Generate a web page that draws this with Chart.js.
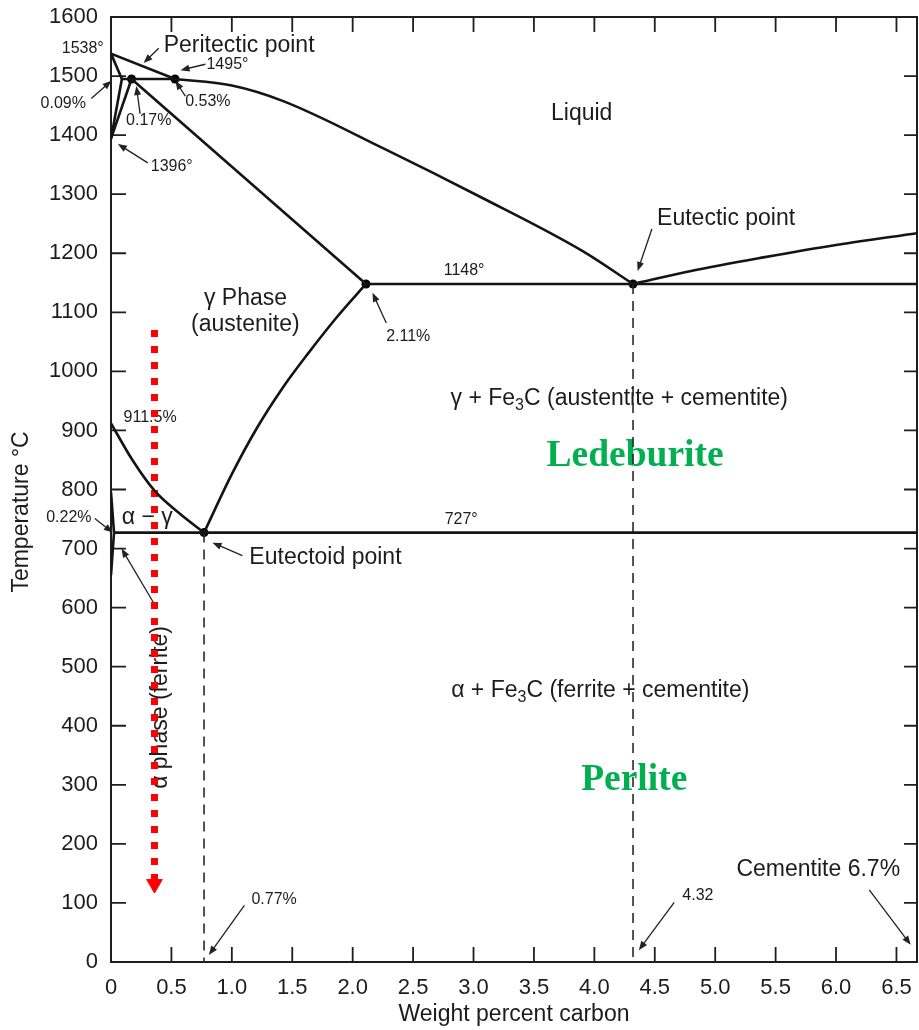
<!DOCTYPE html>
<html>
<head>
<meta charset="utf-8">
<script src="https://cdn.jsdelivr.net/npm/chart.js@4.4.1/dist/chart.umd.min.js"></script>
<style>
  html, body { margin: 0; padding: 0; background: #fff; }
  #wrap { width: 919px; height: 1030px; }
</style>
</head>
<body>
<div id="wrap"><canvas id="phaseChart"></canvas></div>
<script>
// Fe - Fe3C diagram, carbon wt% against temperature (°C)
const deltaLiqC = [0, 0.53];
const deltaLiqT = [1538, 1495];
const liquidusC = [0.53, 1.0, 1.42, 2.25, 3.07, 3.9, 4.32];
const liquidusT = [1495, 1484, 1458, 1378, 1294, 1204, 1148];
const cemLiqC = [4.32, 4.8, 5.4, 6.0, 6.67];
const cemLiqT = [1148, 1170, 1193, 1214, 1234];
const deltaSolC = [0, 0.09];
const deltaSolT = [1538, 1495];
const deltaGamC = [0.09, 0];
const deltaGamT = [1495, 1394];
const gamDeltaC = [0.17, 0];
const gamDeltaT = [1495, 1394];
const peritecticC = [0.09, 0.53];
const peritecticT = [1495, 1495];
const solidusC = [0.17, 2.11];
const solidusT = [1495, 1148];
const eutecticC = [2.11, 6.67];
const eutecticT = [1148, 1148];
const acmC = [0.77, 1.0, 1.21, 1.42, 1.63, 1.87, 2.11];
const acmT = [727, 826, 905, 972, 1030, 1092, 1148];
const a3C = [0, 0.18, 0.36, 0.57, 0.77];
const a3T = [912, 849, 798, 759, 727];
const alphaUpC = [0, 0.025];
const alphaUpT = [795, 727];
const alphaLowC = [0.025, 0.012, 0];
const alphaLowT = [727, 690, 655];
const eutectoidC = [0.025, 6.67];
const eutectoidT = [727, 727];
const dash077C = [0.77, 0.77];
const dash077T = [727, 0];
const dash432C = [4.32, 4.32];
const dash432T = [1148, 0];
const dotC = [0.17, 0.53, 2.11, 4.32, 0.77];
const dotT = [1495, 1495, 1148, 1148, 727];
const coolC = [0.36, 0.36];
const coolT = [1070, 132];

const xTickStep = 0.5;
const yTickStep = 100;

const toXY = (cs, ts) => cs.map((c, i) => ({ x: c, y: ts[i] }));

function curve(cs, ts, smooth) {
  return {
    data: toXY(cs, ts),
    borderColor: "#141414",
    borderWidth: 2.6,
    pointRadius: 0,
    fill: false,
    tension: 0,
    cubicInterpolationMode: smooth ? "monotone" : "default",
  };
}

function dashed(cs, ts) {
  return {
    data: toXY(cs, ts),
    borderColor: "#2a2a2a",
    borderWidth: 1.6,
    borderDash: [10, 7],
    pointRadius: 0,
    fill: false,
  };
}

const SANS = '"Liberation Sans", Arial, sans-serif';
const SERIF = '"Liberation Serif", "Times New Roman", serif';

// texts and leader arrows, placed in data units
const labels = [
  { t: "Peritectic point", c: 0.436, T: 1551, s: 23 },
  { t: "1495°", c: 0.79, T: 1520, s: 16 },
  { t: "1538°", c: -0.06, T: 1546, s: 16, align: "right" },
  { t: "0.09%", c: -0.395, T: 1453, s: 16, align: "center" },
  { t: "0.53%", c: 0.614, T: 1456, s: 16 },
  { t: "0.17%", c: 0.125, T: 1424, s: 16 },
  { t: "1396°", c: 0.329, T: 1346, s: 16 },
  { t: "Liquid", c: 3.641, T: 1437, s: 23 },
  { t: "Eutectic point", c: 4.519, T: 1258, s: 23 },
  { t: "1148°", c: 2.753, T: 1170, s: 16 },
  { t: "γ Phase", c: 1.113, T: 1123, s: 23, align: "center" },
  { t: "(austenite)", c: 1.112, T: 1079, s: 23, align: "center" },
  { t: "2.11%", c: 2.277, T: 1059, s: 16 },
  { t: "911.5%", c: 0.104, T: 922, s: 16 },
  { t: "0.22%", c: -0.349, T: 753, s: 16, align: "center" },
  { t: "α − γ", c: 0.089, T: 753, s: 23 },
  { t: "727°", c: 2.761, T: 749, s: 16 },
  { t: "Eutectoid point", c: 1.145, T: 685, s: 23 },
  { t: "0.77%", c: 1.162, T: 105, s: 16 },
  { t: "4.32", c: 4.728, T: 113, s: 16 },
  { t: "Cementite 6.7%", c: 5.176, T: 156, s: 23 },
  { t: "Ledeburite", c: 4.337, T: 857, s: 37.5, align: "center", serif: true, color: "#00b050" },
  { t: "Perlite", c: 4.33, T: 308, s: 37.5, align: "center", serif: true, color: "#00b050" },
];

const phaseTexts = [
  { c: 2.81, T: 954, parts: [{ t: "γ + Fe" }, { t: "3", sub: true }, { t: "C (austentite + cementite)" }] },
  { c: 2.815, T: 460, parts: [{ t: "α + Fe" }, { t: "3", sub: true }, { t: "C (ferrite + cementite)" }] },
];

const leaders = [
  [0.395, 1547, 0.27, 1522],
  [0.781, 1520, 0.575, 1510],
  [0.615, 1466, 0.533, 1492],
  [-0.163, 1462, 0.004, 1492],
  [0.241, 1436, 0.21, 1483],
  [0.304, 1353, 0.057, 1385],
  [2.278, 1082, 2.164, 1133],
  [4.476, 1241, 4.358, 1170],
  [1.087, 688, 0.84, 710],
  [-0.134, 751, 0.014, 727],
  [0.356, 607, 0.087, 700],
  [1.104, 96, 0.81, 12],
  [4.661, 101, 4.368, 20],
  [6.275, 122, 6.618, 29],
];

function arrow(ctx, x1, y1, x2, y2) {
  const a = Math.atan2(y2 - y1, x2 - x1);
  const L = 9, W = 3.5;
  ctx.beginPath();
  ctx.moveTo(x1, y1);
  ctx.lineTo(x2 - 5 * Math.cos(a), y2 - 5 * Math.sin(a));
  ctx.stroke();
  ctx.beginPath();
  ctx.moveTo(x2, y2);
  ctx.lineTo(x2 - L * Math.cos(a) + W * Math.sin(a), y2 - L * Math.sin(a) - W * Math.cos(a));
  ctx.lineTo(x2 - L * Math.cos(a) - W * Math.sin(a), y2 - L * Math.sin(a) + W * Math.cos(a));
  ctx.closePath();
  ctx.fill();
}

const diagramPlugin = {
  id: "diagram",
  beforeDatasetsDraw(chart) {
    const { ctx, chartArea: area } = chart;
    const xs = chart.scales.x, ys = chart.scales.y;
    const X = (c) => xs.getPixelForValue(c);
    const Y = (t) => ys.getPixelForValue(t);
    ctx.save();

    // frame and inward ticks
    ctx.strokeStyle = "#1e1e1e";
    ctx.lineWidth = 2;
    ctx.strokeRect(area.left, area.top, area.right - area.left, area.bottom - area.top);
    ctx.lineWidth = 1.8;
    xs.ticks.forEach((tk) => {
      if (tk.value <= xs.min || tk.value >= xs.max) return;
      const x = X(tk.value);
      ctx.beginPath();
      ctx.moveTo(x, area.bottom); ctx.lineTo(x, area.bottom - 15);
      ctx.moveTo(x, area.top); ctx.lineTo(x, area.top + 15);
      ctx.stroke();
    });
    ys.ticks.forEach((tk) => {
      if (tk.value <= ys.min || tk.value >= ys.max) return;
      const y = Y(tk.value);
      ctx.beginPath();
      ctx.moveTo(area.left, y); ctx.lineTo(area.left + 15, y);
      ctx.moveTo(area.right, y); ctx.lineTo(area.right - 13, y);
      ctx.stroke();
    });

    // leader arrows
    ctx.strokeStyle = "#222";
    ctx.fillStyle = "#222";
    ctx.lineWidth = 1.3;
    leaders.forEach(([c1, t1, c2, t2]) => arrow(ctx, X(c1), Y(t1), X(c2), Y(t2)));

    // labels
    ctx.textBaseline = "middle";
    labels.forEach((l) => {
      ctx.fillStyle = l.color || "#1c1c1c";
      ctx.font = (l.serif ? "bold " : "") + l.s + "px " + (l.serif ? SERIF : SANS);
      ctx.textAlign = l.align || "left";
      ctx.fillText(l.t, X(l.c), Y(l.T));
    });

    ctx.fillStyle = "#1c1c1c";
    ctx.textAlign = "left";
    phaseTexts.forEach((p) => {
      let x = X(p.c);
      const y = Y(p.T);
      p.parts.forEach((part) => {
        const s = part.sub ? 16 : 23;
        ctx.font = s + "px " + SANS;
        ctx.fillText(part.t, x, part.sub ? y + 7 : y);
        x += ctx.measureText(part.t).width;
      });
    });

    // rotated texts
    ctx.textAlign = "center";
    ctx.font = "23px " + SANS;
    ctx.save();
    ctx.translate(X(0.407), Y(431));
    ctx.rotate(-Math.PI / 2);
    ctx.fillText("α phase (ferrite)", 0, 0);
    ctx.restore();

    ctx.save();
    ctx.translate(area.left - 89, Y(762));
    ctx.rotate(-Math.PI / 2);
    ctx.fillText("Temperature °C", 0, 0);
    ctx.restore();

    ctx.restore();
  },
};

const datasets = [
  curve(deltaLiqC, deltaLiqT),
  curve(liquidusC, liquidusT, true),
  curve(cemLiqC, cemLiqT, true),
  curve(deltaSolC, deltaSolT),
  curve(deltaGamC, deltaGamT),
  curve(gamDeltaC, gamDeltaT),
  curve(peritecticC, peritecticT),
  curve(solidusC, solidusT),
  curve(eutecticC, eutecticT),
  curve(acmC, acmT, true),
  curve(a3C, a3T, true),
  curve(alphaUpC, alphaUpT),
  curve(alphaLowC, alphaLowT),
  curve(eutectoidC, eutectoidT),
  dashed(dash077C, dash077T),
  dashed(dash432C, dash432T),
  {
    data: toXY(dotC, dotT),
    showLine: false,
    pointRadius: 4.5,
    pointBackgroundColor: "#000",
    pointBorderWidth: 0,
  },
  {
    data: toXY(coolC, coolT),
    borderColor: "#ff0000",
    borderWidth: 7,
    borderDash: [7, 9],
    borderCapStyle: "butt",
    pointRadius: [0, 9],
    pointStyle: "triangle",
    pointRotation: 180,
    pointBackgroundColor: "#ff0000",
    pointBorderColor: "#ff0000",
    pointBorderWidth: 1,
    fill: false,
  },
];

new Chart(document.getElementById("phaseChart"), {
  type: "line",
  data: { datasets },
  options: {
    responsive: true,
    maintainAspectRatio: false,
    animation: false,
    events: [],
    layout: { autoPadding: false, padding: { top: 17, right: 2, left: 0, bottom: 0 } },
    plugins: { legend: { display: false }, tooltip: { enabled: false } },
    scales: {
      x: {
        type: "linear",
        min: 0,
        max: 6.67,
        grid: { display: false, drawTicks: false },
        border: { display: false },
        ticks: {
          stepSize: xTickStep,
          includeBounds: false,
          padding: 13,
          color: "#1c1c1c",
          font: { family: SANS, size: 22 },
          maxRotation: 0,
          callback: (v) => (v === 0 ? "0" : v.toFixed(1)),
        },
        title: {
          display: true,
          text: "Weight percent carbon",
          color: "#1c1c1c",
          font: { family: SANS, size: 23 },
          padding: { top: 0, bottom: 2 },
        },
        afterFit: (scale) => {
          scale.height = 68;
          scale.paddingLeft = 0;
          scale.paddingRight = 0;
        },
      },
      y: {
        min: 0,
        max: 1600,
        grid: { display: false, drawTicks: false },
        border: { display: false },
        ticks: {
          stepSize: yTickStep,
          padding: 13,
          color: "#1c1c1c",
          font: { family: SANS, size: 22 },
          callback: (v) => String(v),
        },
        afterFit: (scale) => {
          scale.width = 111;
          scale.paddingTop = 0;
          scale.paddingBottom = 0;
        },
      },
    },
  },
  plugins: [diagramPlugin],
});
</script>
</body>
</html>
